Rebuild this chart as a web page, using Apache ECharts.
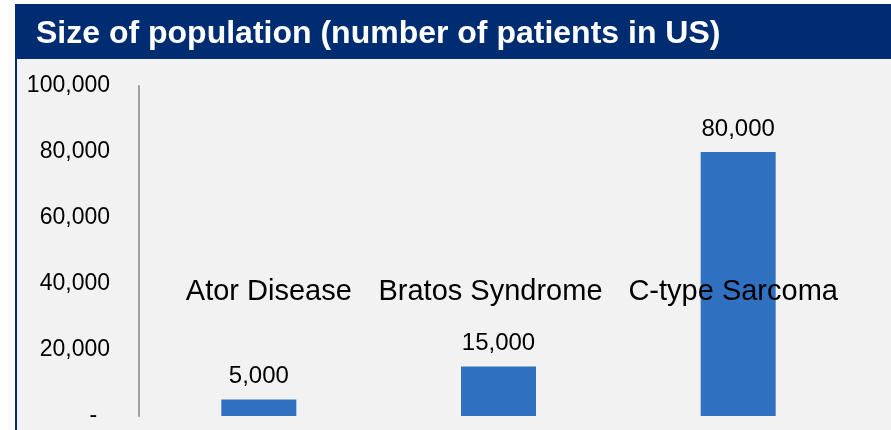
<!DOCTYPE html>
<html>
<head>
<meta charset="utf-8">
<script src="https://cdn.jsdelivr.net/npm/echarts@6/dist/echarts.min.js"></script>
<style>
html, body { margin: 0; padding: 0; background: #ffffff; }
#chart { width: 891px; height: 430px; }
</style>
</head>
<body>
<div id="chart"></div>
<script>
// 数据
var categories = ["Ator Disease", "Bratos Syndrome", "C-type Sarcoma"];
var patients = [5000, 15000, 80000];
var titleText = "Size of population (number of patients in US)";

var fontFamily = 'Arial, "Liberation Sans", sans-serif';
var navy = "#002D72";
// 类别标签的水平偏移 (px)
var labelShift = [10, -8, -5];

function fmt(v) {
  if (v === 0) return "-  ";
  return v.toString().replace(/\B(?=(\d{3})+(?!\d))/g, ",");
}

var catData = categories.map(function (c, i) {
  var s = labelShift[i] * 2;
  return {
    value: c,
    textStyle: {
      verticalAlign: "middle",
      padding: s >= 0 ? [0, 0, 0, s] : [0, -s, 0, 0]
    }
  };
});

var myChart = echarts.init(document.getElementById("chart"));

var option = {
  backgroundColor: "#ffffff",
  animation: false,
  graphic: [
    {
      // 灰色背景 + 左边框
      type: "rect",
      z: -10,
      shape: { x: 16, y: 5, width: 880, height: 430 },
      style: { fill: "#f2f2f2", stroke: navy, lineWidth: 2 }
    },
    {
      // 标题栏
      type: "rect",
      z: -9,
      shape: { x: 15, y: 5, width: 876, height: 54 },
      style: { fill: navy }
    }
  ],
  title: {
    text: titleText,
    left: 31,
    top: 13,
    textStyle: {
      color: "#ffffff",
      fontSize: 32,
      fontWeight: "bold",
      fontFamily: fontFamily
    }
  },
  grid: {
    left: 139,
    right: 33,
    top: 86,
    bottom: 14,
    containLabel: false
  },
  xAxis: {
    type: "category",
    data: catData,
    z: 10,
    axisLine: { show: false },
    axisTick: { show: false },
    axisLabel: {
      interval: 0,
      hideOverlap: false,
      margin: -124,
      verticalAlign: "middle",
      color: "#000000",
      fontSize: 29,
      fontFamily: fontFamily
    }
  },
  yAxis: {
    type: "value",
    min: 0,
    max: 100000,
    interval: 20000,
    axisLine: {
      show: true,
      lineStyle: { color: "#a0a0a0", width: 2 }
    },
    axisTick: { show: false },
    splitLine: { show: false },
    axisLabel: {
      margin: 29,
      color: "#000000",
      fontSize: 23,
      fontFamily: fontFamily,
      formatter: fmt
    }
  },
  series: [
    {
      type: "bar",
      data: patients,
      barWidth: 75,
      z: 2,
      itemStyle: { color: "#3070C0" },
      label: {
        show: true,
        position: "top",
        distance: 11,
        color: "#000000",
        fontSize: 24,
        fontFamily: fontFamily,
        formatter: function (p) { return fmt(p.value); }
      }
    }
  ]
};

myChart.setOption(option);
</script>
</body>
</html>
